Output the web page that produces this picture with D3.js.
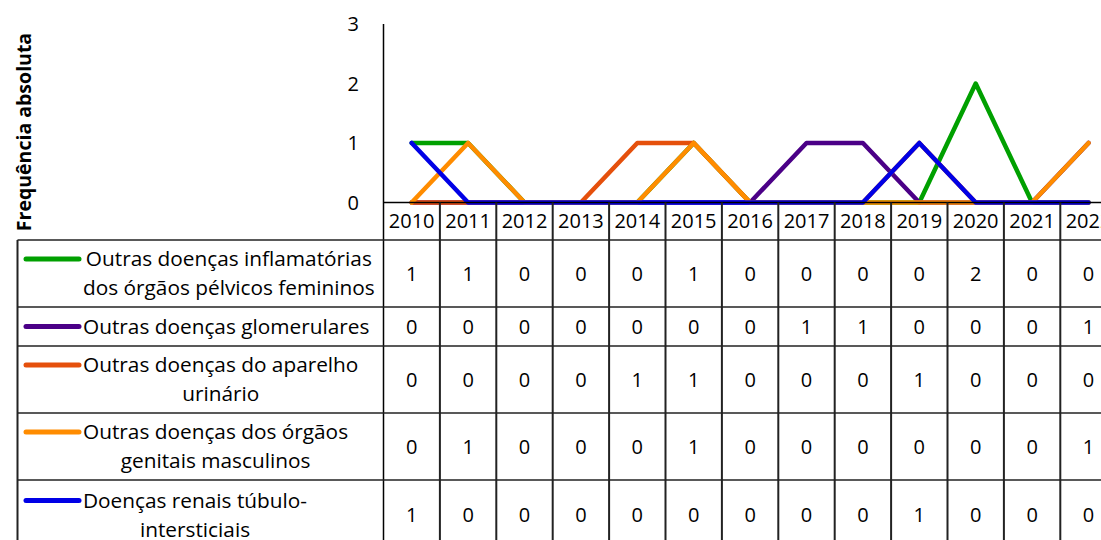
<!DOCTYPE html>
<head>
    <title>Frequência absoluta</title>
    <script src="https://d3js.org/d3.v7.min.js"></script>
</head>
<style>
body {
  margin: 0;
  background: #fff;
  font-family: "Open Sans", "Noto Sans", sans-serif;
  overflow: hidden;
}
</style>
<body>
    <svg></svg>
</body>

<script>

    // Data
    var years = ["2010", "2011", "2012", "2013", "2014", "2015", "2016", "2017", "2018", "2019", "2020", "2021", "2022"];
    var seriesNames = [
        ["Outras doenças inflamatórias", "dos órgãos pélvicos femininos"],
        ["Outras doenças glomerulares"],
        ["Outras doenças do aparelho", "urinário"],
        ["Outras doenças dos órgãos", "genitais masculinos"],
        ["Doenças renais túbulo-", "intersticiais"]
    ];
    var seriesColors = ["#00a000", "#4b0087", "#e5500c", "#ff8c00", "#0000e6"];
    var inflamatorias = [1, 1, 0, 0, 0, 1, 0, 0, 0, 0, 2, 0, 0];
    var glomerulares  = [0, 0, 0, 0, 0, 0, 0, 1, 1, 0, 0, 0, 1];
    var urinario      = [0, 0, 0, 0, 1, 1, 0, 0, 0, 1, 0, 0, 0];
    var genitais      = [0, 1, 0, 0, 0, 1, 0, 0, 0, 0, 0, 0, 1];
    var tubulo        = [1, 0, 0, 0, 0, 0, 0, 0, 0, 1, 0, 0, 0];
    var yTicks = [0, 1, 2, 3];

    var seriesValues = [inflamatorias, glomerulares, urinario, genitais, tubulo];

    // Layout
    var width = 1101;
    var height = 540;
    var plotLeft = 383.5;
    var colWidth = 56.4;
    var tableLeft = 17.5;
    var yearTop = 202.5;
    var yearBottom = 240;
    var rowHeights = [67, 39, 67, 67, 70];

    var svg = d3.select('svg')
        .attr('width', width)
        .attr('height', height);

    var x = d3.scaleBand()
        .domain(years)
        .range([plotLeft, plotLeft + colWidth * years.length]);

    var y = d3.scaleLinear()
        .domain([0, 3])
        .range([yearTop, 24]);

    // Y axis title
    svg.append("text")
        .attr("transform", "translate(31,132)rotate(-90)")
        .attr("text-anchor", "middle")
        .style("font-weight", "bold")
        .style("font-size", "19.5px")
        .text("Frequência absoluta");

    // Y tick labels
    svg.selectAll(".ytick")
        .data(yTicks)
        .enter().append("text")
        .attr("class", "ytick")
        .attr("x", 359)
        .attr("y", function (d) { return y(d); })
        .attr("dy", "0.35em")
        .attr("text-anchor", "end")
        .style("font-size", "20px")
        .text(function (d) { return d; });

    // Lines
    var line = d3.line()
        .x(function (d, i) { return x(years[i]) + x.bandwidth() / 2; })
        .y(function (d) { return y(d); });

    svg.selectAll(".series")
        .data(seriesValues)
        .enter().append("path")
        .attr("class", "series")
        .attr("d", line)
        .attr("fill", "none")
        .attr("stroke", function (d, i) { return seriesColors[i]; })
        .attr("stroke-width", 4.5)
        .attr("stroke-linejoin", "round")
        .attr("stroke-linecap", "round");

    // Axis lines
    svg.append("line")
        .attr("x1", plotLeft).attr("x2", width)
        .attr("y1", yearTop).attr("y2", yearTop)
        .attr("stroke", "#000").attr("stroke-width", 1.5);
    svg.append("line")
        .attr("x1", plotLeft).attr("x2", plotLeft)
        .attr("y1", 24).attr("y2", height)
        .attr("stroke", "#000").attr("stroke-width", 1.5);

    // Year header row
    svg.selectAll(".year")
        .data(years)
        .enter().append("text")
        .attr("class", "year")
        .attr("x", function (d) { return x(d) + x.bandwidth() / 2; })
        .attr("y", (yearTop + yearBottom) / 2)
        .attr("dy", "0.35em")
        .attr("text-anchor", "middle")
        .style("font-size", "20px")
        .text(function (d) { return d; });

    // Row boundaries
    var rowTops = [yearBottom];
    rowHeights.forEach(function (h, i) { rowTops.push(rowTops[i] + h); });

    svg.selectAll(".hline")
        .data(rowTops)
        .enter().append("line")
        .attr("class", "hline")
        .attr("x1", tableLeft).attr("x2", width)
        .attr("y1", function (d) { return d; }).attr("y2", function (d) { return d; })
        .attr("stroke", "#222").attr("stroke-width", 1.5);

    // Vertical grid lines
    svg.append("line")
        .attr("x1", tableLeft).attr("x2", tableLeft)
        .attr("y1", yearBottom).attr("y2", height)
        .attr("stroke", "#222").attr("stroke-width", 2);

    svg.selectAll(".vline")
        .data(years)
        .enter().append("line")
        .attr("class", "vline")
        .attr("x1", function (d) { return x(d) + x.bandwidth(); })
        .attr("x2", function (d) { return x(d) + x.bandwidth(); })
        .attr("y1", yearTop).attr("y2", height)
        .attr("stroke", "#222").attr("stroke-width", 2);

    // Table rows
    var rows = svg.selectAll(".row")
        .data(seriesValues)
        .enter().append("g")
        .attr("class", "row")
        .attr("transform", function (d, i) { return "translate(0," + rowTops[i] + ")"; });

    rows.selectAll(".val")
        .data(function (d) { return d; })
        .enter().append("text")
        .attr("class", "val")
        .attr("x", function (d, i) { return x(years[i]) + x.bandwidth() / 2; })
        .attr("y", function (d, i, nodes) {
            var r = seriesValues.indexOf(d3.select(nodes[i].parentNode).datum());
            return rowHeights[r] / 2;
        })
        .attr("dy", "0.35em")
        .attr("text-anchor", "middle")
        .style("font-size", "20px")
        .text(function (d) { return d; });

    // Legend keys and labels
    var lineGap = 29;
    rows.each(function (d, r) {
        var g = d3.select(this);
        var names = seriesNames[r];
        var firstY = rowHeights[r] / 2 - (names.length - 1) * lineGap / 2;

        g.append("line")
            .attr("x1", 26).attr("x2", 79)
            .attr("y1", firstY).attr("y2", firstY)
            .attr("stroke", seriesColors[r])
            .attr("stroke-width", 5)
            .attr("stroke-linecap", "round");

        var labels = g.selectAll(".lab")
            .data(names)
            .enter().append("text")
            .attr("class", "lab")
            .attr("y", function (t, k) { return firstY + k * lineGap; })
            .attr("dy", "0.35em")
            .attr("text-anchor", "middle")
            .style("font-size", "20.8px")
            .text(function (t) { return t; });

        // centre each line inside the block that starts right after the key
        var maxW = d3.max(labels.nodes(), function (n) { return n.getComputedTextLength(); });
        labels.attr("x", 83 + maxW / 2);
    });

</script>
